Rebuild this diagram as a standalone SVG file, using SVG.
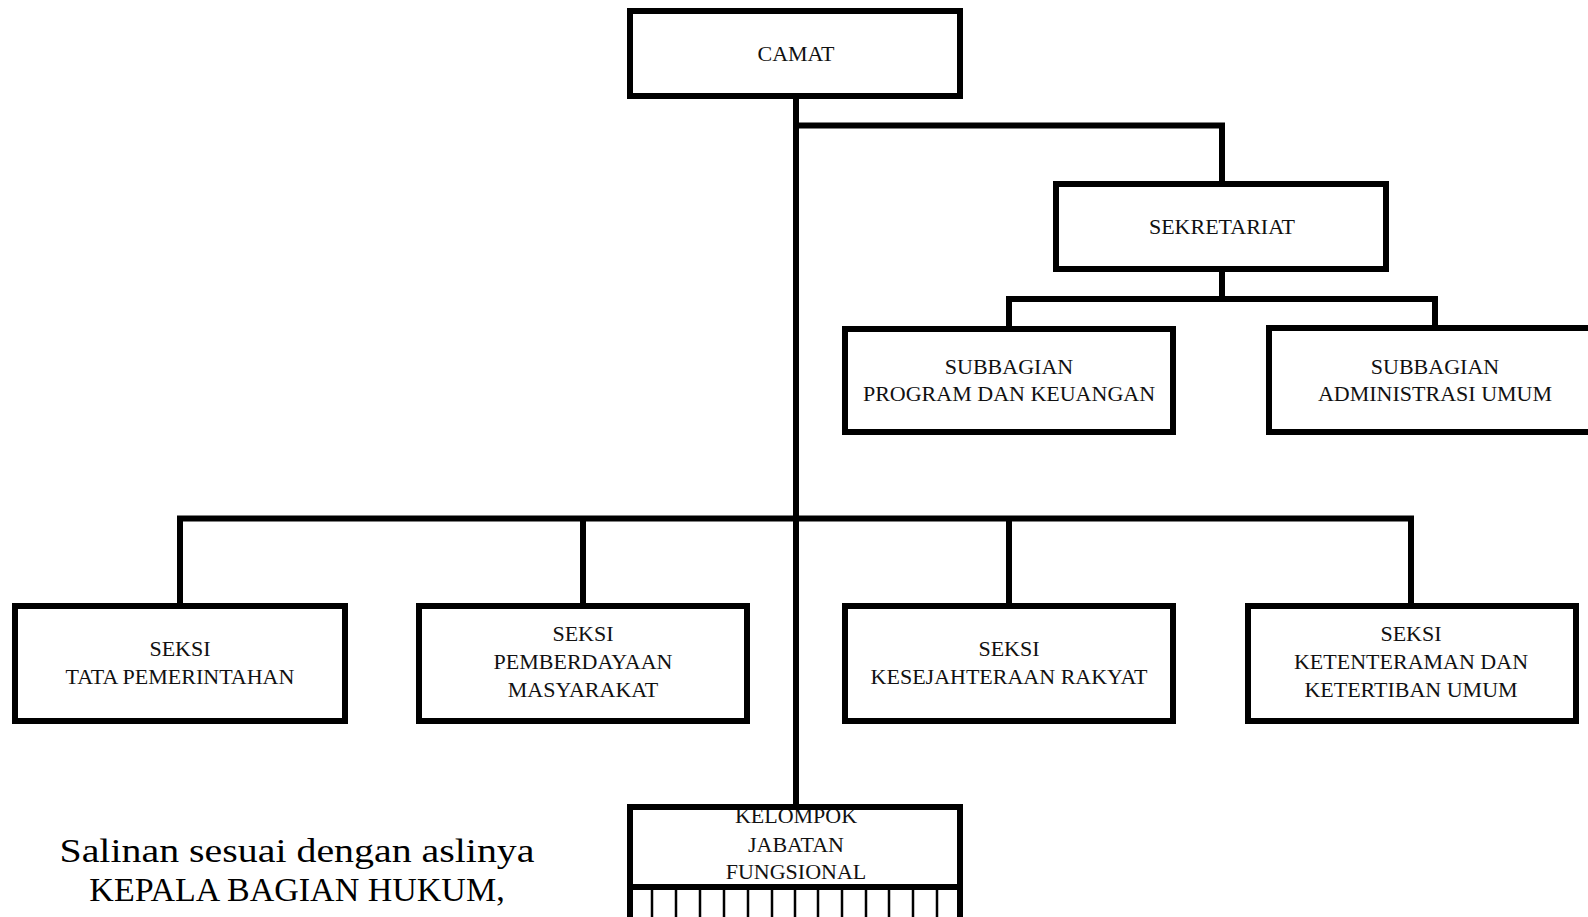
<svg xmlns="http://www.w3.org/2000/svg" width="1588" height="917" viewBox="0 0 1588 917">
<style>
.box{fill:#fff;stroke:#000;stroke-width:6}
.lbl{font-family:"Liberation Serif","Times New Roman",serif;font-size:22px;fill:#111;text-anchor:middle}
.con{fill:none;stroke:#000;stroke-width:6;stroke-linejoin:miter;stroke-linecap:butt}
.fence{stroke:#000;stroke-width:2.5}
.note{font-family:"Liberation Serif","Times New Roman",serif;font-size:34px;fill:#000;text-anchor:middle}
</style>
<rect width="1588" height="917" fill="#fff"/>
<g id="connectors">
<path class="con" d="M796 99 V804"/>
<path class="con" d="M793 125.5 H1222 V181"/>
<path class="con" d="M1222 272 V299"/>
<path class="con" d="M1009 326 V299 H1435 V326"/>
<path class="con" d="M180 605 V518.5 H1411 V605"/>
<path class="con" d="M583 518.5 V605"/>
<path class="con" d="M1009 518.5 V605"/>
</g>
<g id="camat">
<rect class="box" x="630" y="11" width="330" height="85"/>
<text class="lbl" x="796" y="61">CAMAT</text>
</g>
<g id="sekretariat">
<rect class="box" x="1056" y="184" width="330" height="85"/>
<text class="lbl" x="1222" y="234">SEKRETARIAT</text>
</g>
<g id="subbagian-program">
<rect class="box" x="845" y="329" width="328" height="103"/>
<text class="lbl" x="1009" y="374">SUBBAGIAN</text>
<text class="lbl" x="1009" y="401">PROGRAM DAN KEUANGAN</text>
</g>
<g id="subbagian-administrasi">
<rect class="box" x="1269" y="328" width="330" height="104"/>
<text class="lbl" x="1435" y="374">SUBBAGIAN</text>
<text class="lbl" x="1435" y="401">ADMINISTRASI UMUM</text>
</g>
<g id="seksi-tata">
<rect class="box" x="15" y="606" width="330" height="115"/>
<text class="lbl" x="180" y="656">SEKSI</text>
<text class="lbl" x="180" y="684">TATA PEMERINTAHAN</text>
</g>
<g id="seksi-pemberdayaan">
<rect class="box" x="419" y="606" width="328" height="115"/>
<text class="lbl" x="583" y="641">SEKSI</text>
<text class="lbl" x="583" y="669">PEMBERDAYAAN</text>
<text class="lbl" x="583" y="697">MASYARAKAT</text>
</g>
<g id="seksi-kesejahteraan">
<rect class="box" x="845" y="606" width="328" height="115"/>
<text class="lbl" x="1009" y="656">SEKSI</text>
<text class="lbl" x="1009" y="684">KESEJAHTERAAN RAKYAT</text>
</g>
<g id="seksi-ketenteraman">
<rect class="box" x="1248" y="606" width="328" height="115"/>
<text class="lbl" x="1411" y="641">SEKSI</text>
<text class="lbl" x="1411" y="669">KETENTERAMAN DAN</text>
<text class="lbl" x="1411" y="697">KETERTIBAN UMUM</text>
</g>
<g id="kelompok-jabatan-fungsional">
<rect x="630" y="807" width="330" height="80" fill="#fff"/>
<text class="lbl" x="796" y="823">KELOMPOK</text>
<text class="lbl" x="796" y="852">JABATAN</text>
<text class="lbl" x="796" y="879">FUNGSIONAL</text>
<rect x="630" y="807" width="330" height="80" fill="none" stroke="#000" stroke-width="6"/>
<path d="M630 887 V917 M960 887 V917" stroke="#000" stroke-width="6"/>
<path class="fence" d="M652 890 V917 M676 890 V917 M700 890 V917 M724 890 V917 M748 890 V917 M772 890 V917 M795 890 V917 M818 890 V917 M842 890 V917 M866 890 V917 M889 890 V917 M913 890 V917 M937 890 V917"/>
</g>
<g id="salinan">
<text class="note" x="297" y="862" textLength="475" lengthAdjust="spacingAndGlyphs">Salinan sesuai dengan aslinya</text>
<text class="note" x="297" y="901">KEPALA BAGIAN HUKUM,</text>
</g>
</svg>
